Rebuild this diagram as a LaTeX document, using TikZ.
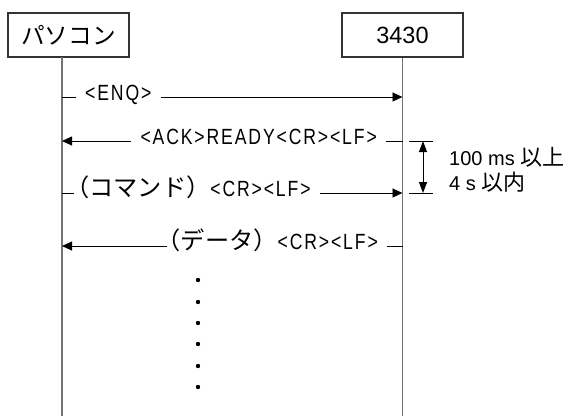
\documentclass[tikz,border=0pt]{standalone}
\usepackage{fontspec}
\setmainfont{Liberation Sans}
\newfontfamily\msgfont{Liberation Sans}[FakeStretch=0.8, LetterSpace=8.5]
\newfontfamily\jp{Noto Sans CJK JP}[Scale=1.1]
\usetikzlibrary{arrows.meta}

\begin{document}
\begin{tikzpicture}[
    x=1pt, y=-1pt,
    every node/.style={font=\fontsize{20}{25}\selectfont},
    actor/.style={draw=black!80, line width=1.1pt, minimum width=121pt,
        minimum height=44pt, inner sep=0pt},
    lifeline/.style={draw=black!55, line width=1.6pt},
    msg/.style={font=\fontsize{22}{25}\selectfont\msgfont, inner xsep=9pt,
        inner ysep=0pt, text height=0.72em, text depth=0pt},
    plain/.style={line width=0.9pt},
    call/.style={plain, -{Triangle[length=10pt,width=9pt]}},
    span/.style={plain, {Triangle[length=11pt,width=8pt]}-{Triangle[length=11pt,width=8pt]}},
    ]

    \useasboundingbox (0,0) rectangle (568,416);

    % the two sides
    \node[actor, font=\fontsize{21.5}{24}\selectfont\jp] (pc) at (68.5,35) {パソコン};
    \node[actor, font=\fontsize{23.5}{24}\selectfont] (dev) at (402.5,35) {3430};

    \coordinate (pc-top) at (62,57);
    \coordinate (pc-end) at (62,416);
    \draw[lifeline] (pc-top) -- (pc-end);
    \draw[lifeline] (dev.south) -- (dev.south |- pc-end);

    % ENQ
    \node[msg, anchor=west] (enq) at (76,97) {<ENQ>};
    \draw[plain] (pc-top |- enq) -- (enq.west);
    \draw[call] (enq.east) -- (dev.south |- enq);

    % ACK
    \node[msg, anchor=east] (ack) at (386,141) {<ACK>READY<CR><LF>};
    \draw[call] (ack.west) -- (pc-top |- ack);
    \draw[plain] (ack.east) -- (dev.south |- ack);

    % command
    \node[msg, anchor=west] (cmd) at (56,193) {{\jp （コマンド）}<CR><LF>};
    \draw[plain] (pc-top |- cmd) -- ([xshift=18pt]cmd.west);
    \draw[call] (cmd.east) -- (dev.south |- cmd);

    % data
    \node[msg, anchor=east] (data) at (387,246) {{\jp （データ）}<CR><LF>};
    \draw[call] ([xshift=20pt]data.west) -- (pc-top |- data);
    \draw[plain] (data.east) -- (dev.south |- data);

    % timing between ACK and command
    \coordinate (t-top) at (409,141);
    \coordinate (t-bot) at (409,193);
    \draw[plain] (t-top) -- ++(24,0);
    \draw[plain] (t-bot) -- ++(24,0);
    \draw[span] ([xshift=14pt]t-top) -- ([xshift=14pt]t-bot);
    \node[anchor=west, align=left, inner sep=0pt] (delay) at (449,170)
        {100 ms {\jp 以上}\\4 s {\jp 以内}};

    \foreach \y in {280,302,323,344,366,387}
        \fill (198,\y) circle (2.2pt);

\end{tikzpicture}
\end{document}
